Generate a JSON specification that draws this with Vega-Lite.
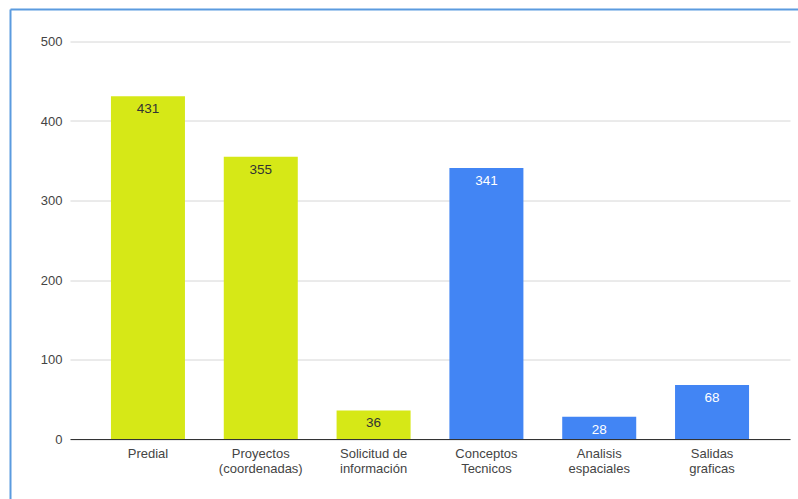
{
  "$schema": "https://vega.github.io/schema/vega-lite/v6.json",
  "autosize": "none",
  "width": 720,
  "height": 397.5,
  "padding": {"left": 70, "top": 41.5, "right": 8, "bottom": 60},
  "background": "white",
  "config": {
    "view": {"stroke": null},
    "font": "Liberation Sans"
  },
  "data": {
    "values": [
      {"cat": "Predial", "value": 431, "grupo": "A"},
      {"cat": "Proyectos (coordenadas)", "value": 355, "grupo": "A"},
      {"cat": "Solicitud de información", "value": 36, "grupo": "A"},
      {"cat": "Conceptos Tecnicos", "value": 341, "grupo": "B"},
      {"cat": "Analisis espaciales", "value": 28, "grupo": "B"},
      {"cat": "Salidas graficas", "value": 68, "grupo": "B"}
    ]
  },
  "resolve": {
    "scale": {"x": "independent", "y": "independent"},
    "axis": {"x": "independent", "y": "independent"}
  },
  "layer": [
    {
      "encoding": {
        "x": {
          "field": "cat",
          "type": "nominal",
          "sort": null,
          "scale": {"paddingInner": 0.344, "paddingOuter": 0.363},
          "axis": {
            "title": null,
            "labelAngle": 0,
            "ticks": false,
            "domainColor": "#333333",
            "domainWidth": 1,
            "labelColor": "#444444",
            "labelFontSize": 13,
            "labelLineHeight": 15,
            "labelPadding": 8,
            "labelExpr": "indexof(datum.value, ' de ') > 0 ? ['Solicitud de', 'información'] : split(datum.value, ' ')"
          }
        },
        "y": {
          "field": "value",
          "type": "quantitative",
          "scale": {"domain": [0, 500]},
          "axis": {
            "title": null,
            "values": [0, 100, 200, 300, 400, 500],
            "domain": false,
            "ticks": false,
            "labelColor": "#444444",
            "labelFontSize": 13,
            "labelPadding": 8,
            "gridColor": "#d6d6d6",
            "gridWidth": 1
          }
        }
      },
      "layer": [
        {
          "mark": {"type": "bar"},
          "encoding": {
            "color": {
              "field": "grupo",
              "type": "nominal",
              "scale": {"domain": ["A", "B"], "range": ["#d6e817", "#4285f4"]},
              "legend": null
            }
          }
        },
        {
          "mark": {"type": "text", "baseline": "middle", "dy": 13, "fontSize": 13.5},
          "encoding": {
            "text": {"field": "value", "type": "quantitative"},
            "color": {
              "condition": {"test": "datum.grupo == 'B'", "value": "#ffffff"},
              "value": "#333333"
            }
          }
        }
      ]
    },
    {
      "mark": {"type": "point", "opacity": 0},
      "encoding": {
        "x": {
          "field": "value",
          "type": "quantitative",
          "scale": {"domain": [0, 1], "range": [-60, 760]},
          "axis": {
            "orient": "top",
            "offset": 32.5,
            "title": null,
            "labels": false,
            "ticks": false,
            "grid": false,
            "domainColor": "#5b9bdf",
            "domainWidth": 2
          }
        },
        "y": {
          "field": "value",
          "type": "quantitative",
          "scale": {"domain": [0, 1], "range": [480, -32.5]},
          "axis": {
            "orient": "left",
            "offset": 60,
            "title": null,
            "labels": false,
            "ticks": false,
            "grid": false,
            "domainColor": "#5b9bdf",
            "domainWidth": 2
          }
        }
      }
    }
  ]
}
